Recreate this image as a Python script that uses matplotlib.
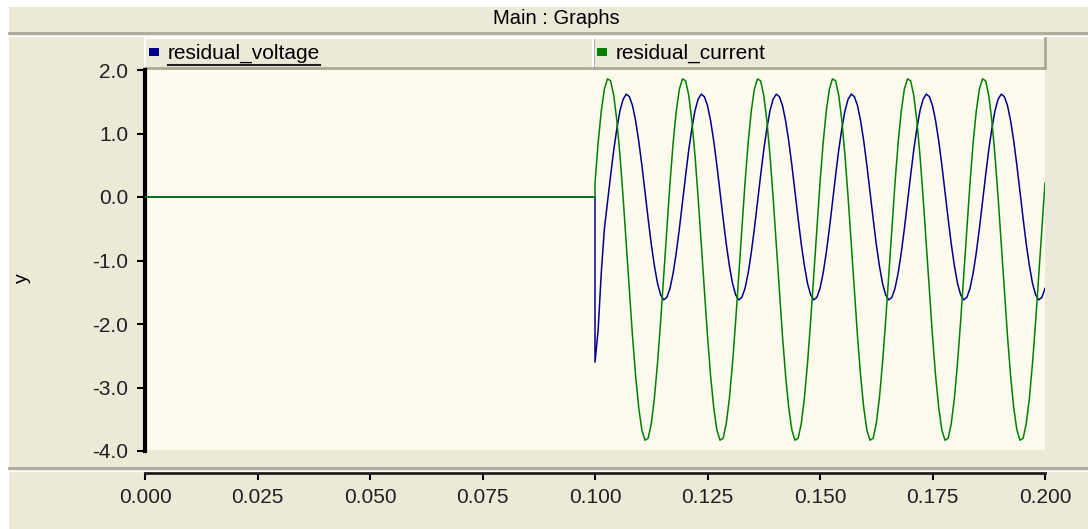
#!/usr/bin/env python3
"""
Main : Graphs - residual voltage / current trace (PSCAD-style panel)
"""
import numpy as np
import matplotlib
matplotlib.use("Agg")
import matplotlib.pyplot as plt
from matplotlib.patches import Rectangle
from matplotlib.lines import Line2D

# --- data ---------------------------------------------------------------------------------------
T_START = 0.0
T_FAULT = 0.1
T_END = 0.2
STEP = 1.0 / 1440.0            # sample spacing (15 deg of a 60 Hz cycle)

# values after t = 0.1 s, one sample per step
residual_current = [
    0.22, 0.85, 1.35, 1.70, 1.86, 1.83, 1.60, 1.20, 0.65, -0.01, -0.74, -1.48,
    -2.19, -2.82, -3.32, -3.67, -3.83, -3.80, -3.57, -3.17, -2.62, -1.96, -1.23, -0.49,
    0.22, 0.85, 1.35, 1.70, 1.86, 1.83, 1.60, 1.20, 0.65, -0.01, -0.74, -1.48,
    -2.19, -2.82, -3.32, -3.67, -3.83, -3.80, -3.57, -3.17, -2.62, -1.96, -1.23, -0.49,
    0.22, 0.85, 1.35, 1.70, 1.86, 1.83, 1.60, 1.20, 0.65, -0.01, -0.74, -1.48,
    -2.19, -2.82, -3.32, -3.67, -3.83, -3.80, -3.57, -3.17, -2.62, -1.96, -1.23, -0.49,
    0.22, 0.85, 1.35, 1.70, 1.86, 1.83, 1.60, 1.20, 0.65, -0.01, -0.74, -1.48,
    -2.19, -2.82, -3.32, -3.67, -3.83, -3.80, -3.57, -3.17, -2.62, -1.96, -1.23, -0.49,
    0.22, 0.85, 1.35, 1.70, 1.86, 1.83, 1.60, 1.20, 0.65, -0.01, -0.74, -1.48,
    -2.19, -2.82, -3.32, -3.67, -3.83, -3.80, -3.57, -3.17, -2.62, -1.96, -1.23, -0.49,
    0.22, 0.85, 1.35, 1.70, 1.86, 1.83, 1.60, 1.20, 0.65, -0.01, -0.74, -1.48,
    -2.19, -2.82, -3.32, -3.67, -3.83, -3.80, -3.57, -3.17, -2.62, -1.96, -1.23, -0.49,
    0.22,
]
residual_voltage = [
    -2.60, -2.10, -1.20, -0.50, -0.08, 0.34, 0.74, 1.08, 1.36, 1.54, 1.62, 1.58,
    1.44, 1.20, 0.88, 0.50, 0.08, -0.34, -0.74, -1.08, -1.36, -1.54, -1.62, -1.58,
    -1.44, -1.20, -0.88, -0.50, -0.08, 0.34, 0.74, 1.08, 1.36, 1.54, 1.62, 1.58,
    1.44, 1.20, 0.88, 0.50, 0.08, -0.34, -0.74, -1.08, -1.36, -1.54, -1.62, -1.58,
    -1.44, -1.20, -0.88, -0.50, -0.08, 0.34, 0.74, 1.08, 1.36, 1.54, 1.62, 1.58,
    1.44, 1.20, 0.88, 0.50, 0.08, -0.34, -0.74, -1.08, -1.36, -1.54, -1.62, -1.58,
    -1.44, -1.20, -0.88, -0.50, -0.08, 0.34, 0.74, 1.08, 1.36, 1.54, 1.62, 1.58,
    1.44, 1.20, 0.88, 0.50, 0.08, -0.34, -0.74, -1.08, -1.36, -1.54, -1.62, -1.58,
    -1.44, -1.20, -0.88, -0.50, -0.08, 0.34, 0.74, 1.08, 1.36, 1.54, 1.62, 1.58,
    1.44, 1.20, 0.88, 0.50, 0.08, -0.34, -0.74, -1.08, -1.36, -1.54, -1.62, -1.58,
    -1.44, -1.20, -0.88, -0.50, -0.08, 0.34, 0.74, 1.08, 1.36, 1.54, 1.62, 1.58,
    1.44, 1.20, 0.88, 0.50, 0.08, -0.34, -0.74, -1.08, -1.36, -1.54, -1.62, -1.58,
    -1.44,
]

X_TICKS = [0.000, 0.025, 0.050, 0.075, 0.100, 0.125, 0.150, 0.175, 0.200]
Y_TICKS = [-4.0, -3.0, -2.0, -1.0, 0.0, 1.0, 2.0]
SERIES = [("residual_voltage", "#00008c"), ("residual_current", "#008000")]

# --- style ----------------------------------------------------------------------------------------
W, H, DPI = 1088, 529, 100
BEIGE = "#ece9d8"
CREAM = "#fdfaee"
SHADOW = "#aca899"
FONT = "Liberation Sans"
FS = 15

plt.rcParams["font.family"] = [FONT, "DejaVu Sans"]
BACK = -2      # zorder for window decoration (below the axes)


def px_rect(x0, y0, x1, y1):
    """figure-fraction rect from pixel box (origin top-left)"""
    return [x0 / W, 1 - y1 / H, (x1 - x0) / W, (y1 - y0) / H]


def hline(fig, x0, x1, y, **kw):
    fig.add_artist(Line2D([x0 / W, x1 / W], [1 - y / H] * 2, zorder=BACK + 1, **kw))


def vline(fig, x, y0, y1, **kw):
    fig.add_artist(Line2D([x / W] * 2, [1 - y0 / H, 1 - y1 / H], zorder=BACK + 1, **kw))


def box(fig, x0, y0, x1, y1, face):
    fig.add_artist(Rectangle((x0 / W, 1 - y1 / H), (x1 - x0) / W, (y1 - y0) / H,
                             transform=fig.transFigure, facecolor=face, edgecolor="none",
                             zorder=BACK))


def bevel(fig, x0, y0, x1, y1):
    box(fig, x0, y0, x1, y1, BEIGE)
    # white highlight top/left, grey shadow bottom/right
    hline(fig, x0, x1, y0, color="white", lw=1.5)
    vline(fig, x0, y0, y1, color="white", lw=1.5)
    hline(fig, x0, x1, y1, color=SHADOW, lw=2)
    vline(fig, x1, y0, y1, color=SHADOW, lw=2)


def main():
    fig = plt.figure(figsize=(W / DPI, H / DPI), dpi=DPI, facecolor="white")

    # window background
    box(fig, 9, 7, W, H, BEIGE)
    # title bar
    hline(fig, 9, W, 33, color=SHADOW, lw=2)
    hline(fig, 9, W, 36, color="white", lw=1)
    fig.text(556 / W, 1 - 18 / H, "Main : Graphs", ha="center", va="center", fontsize=FS - 0.5)

    # legend tabs
    tabs = [(145, 593), (593, 1045)]
    for (x0, x1), (name, colour) in zip(tabs, SERIES):
        bevel(fig, x0, 38, x1, 68)
        fig.add_artist(Rectangle(((x0 + 4) / W, 1 - 56 / H), 10 / W, 8 / H,
                                 transform=fig.transFigure, facecolor=colour, edgecolor="none"))
        t = fig.text((x0 + 23) / W, 1 - 53 / H, name, ha="left", va="center", fontsize=FS)
        if name == "residual_voltage":
            fig.canvas.draw()
            bb = t.get_window_extent().transformed(fig.transFigure.inverted())
            fig.add_artist(Line2D([bb.x0, bb.x1], [1 - 65 / H] * 2, color="#202020", lw=1.5))

    # bottom separator
    hline(fig, 9, W, 468, color=SHADOW, lw=2)
    hline(fig, 9, W, 470.5, color="white", lw=1)

    # plot area background
    box(fig, 145, 68, 1045, 449.5, CREAM)

    # --- main plot axes ---
    ax = fig.add_axes(px_rect(145, 70, 1045, 451))
    ax.patch.set_visible(False)

    n = len(residual_current)
    t_after = T_FAULT + STEP * np.arange(n)
    t_full = np.concatenate([[T_START, T_FAULT], t_after])
    v_full = np.concatenate([[0.0, 0.0], residual_voltage])
    i_full = np.concatenate([[0.0, 0.0], residual_current])

    ax.plot(t_full, v_full, color=SERIES[0][1], lw=1.1, zorder=3)
    ax.plot(t_full, i_full, color=SERIES[1][1], lw=1.1, zorder=4)

    ax.set_xlim(T_START, T_END)
    ax.set_ylim(-4.0, 2.0)
    for side in ("top", "right", "bottom"):
        ax.spines[side].set_visible(False)
    ax.spines["left"].set_linewidth(3)
    ax.spines["left"].set_color("black")
    ax.set_xticks([])
    ax.set_yticks(Y_TICKS)
    ax.set_yticklabels([f"{v:.1f}" for v in Y_TICKS], fontsize=FS, color="#202020")
    ax.tick_params(axis="y", direction="out", length=6, width=1.5, pad=6)
    fig.text(22 / W, 1 - 278 / H, "y", rotation=90, ha="center", va="center", fontsize=FS - 1)

    # --- x axis strip ---
    axx = fig.add_axes(px_rect(145, 468, 1045, 473))
    axx.patch.set_visible(False)
    for side in ("top", "right", "left"):
        axx.spines[side].set_visible(False)
    axx.spines["bottom"].set_linewidth(2)
    axx.spines["bottom"].set_color("#202020")
    axx.set_xlim(T_START, T_END)
    axx.set_yticks([])
    axx.set_xticks(X_TICKS)
    axx.set_xticklabels([f"{v:.3f}" for v in X_TICKS], fontsize=FS, color="#202020")
    axx.tick_params(axis="x", direction="out", length=5, width=1.5, pad=6)

    fig.savefig("out.png", dpi=DPI, facecolor="white")
    plt.close(fig)


if __name__ == "__main__":
    main()
